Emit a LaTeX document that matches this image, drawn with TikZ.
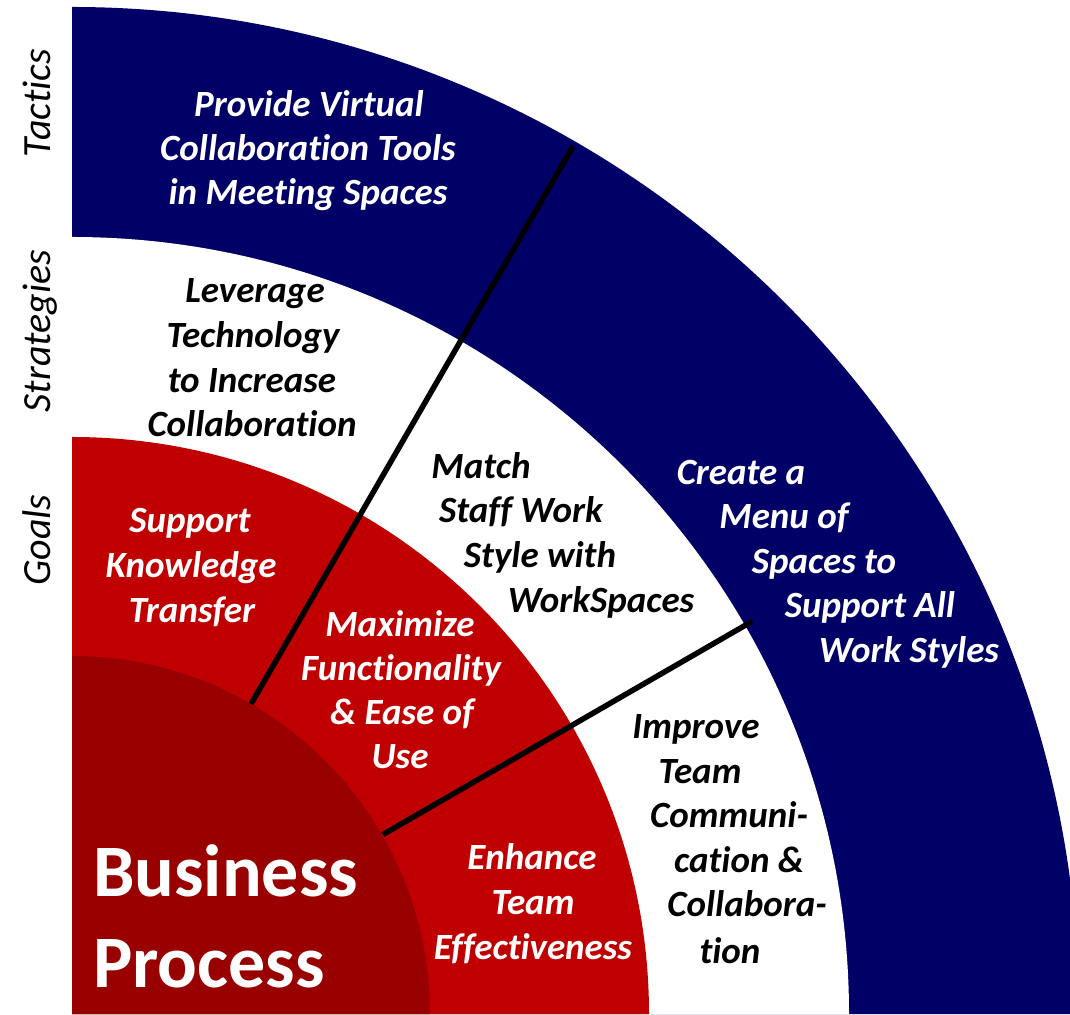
\documentclass[tikz,border=0pt]{standalone}
\usepackage{fontspec}
\setmainfont{Carlito}[RawFeature={-liga;-clig;-calt;-dlig}]
\usetikzlibrary{calc}
\definecolor{navy}{HTML}{000066}
\definecolor{bred}{HTML}{C00000}
\definecolor{dred}{HTML}{990000}
\begin{document}
\begin{tikzpicture}[x=1pt,y=1pt,
  lbl/.style={anchor=base,inner sep=0pt,font=\fontsize{37}{44}\selectfont\bfseries\itshape},
  onwhite/.style={lbl,text=black},
  ondark/.style={lbl,text=white},
  side/.style={anchor=base,inner sep=0pt,rotate=90,font=\fontsize{40}{48}\selectfont\itshape},
  big/.style={anchor=base west,inner sep=0pt,text=white,font=\fontsize{74}{88}\selectfont\bfseries},
  divider/.style={line width=5.5pt,black}]
\useasboundingbox (0,0) rectangle (1070,1014);
\clip (0,0) rectangle (1070,1014);
\coordinate (C) at (72,0);
% rings
\fill[navy] (C) -- ++(0,1007pt) arc[start angle=90,end angle=0,radius=1007pt] -- cycle;
\fill[white] (C) -- ++(0,777pt) arc[start angle=90,end angle=0,radius=777pt] -- cycle;
\fill[bred] (C) -- ++(0,577pt) arc[start angle=90,end angle=0,radius=577pt] -- cycle;
\fill[dred] (C) -- ++(0,358pt) arc[start angle=90,end angle=0,radius=358pt] -- cycle;
% dividers
\coordinate (a1) at ($(C)+(60:358)$);
\coordinate (a2) at ($(C)+(60:1002)$);
\coordinate (b1) at ($(C)+(30:359)$);
\coordinate (b2) at ($(C)+(30:785)$);
\draw[divider] (a1) -- (a2);
\draw[divider] (b1) -- (b2);
% side labels
\node[side] (tac) at (50,911) {Tactics};
\node[side] (str) at (50,683) {Strategies};
\node[side] (goa) at (50,474) {Goals};
% tactics
\node[ondark] (pv1) at (309,897) {Provide Virtual};
\node[ondark] (pv2) at (308,853) {Collaboration Tools};
\node[ondark] (pv3) at (308,809) {in Meeting Spaces};
\node[ondark] (cm1) at (741,529) {Create a};
\node[ondark] (cm2) at (784,485) {Menu of};
\node[ondark] (cm3) at (824,440) {Spaces to};
\node[ondark] (cm4) at (870,396) {Support All};
\node[ondark] (cm5) at (909,351) {Work Styles};
% strategies
\node[onwhite] (lt1) at (255,711) {Leverage};
\node[onwhite] (lt2) at (253,666) {Technology};
\node[onwhite] (lt3) at (252,621) {to Increase};
\node[onwhite] (lt4) at (252,577) {Collaboration};
\node[onwhite] (ms1) at (481,535) {Match};
\node[onwhite] (ms2) at (521,491) {Staff Work};
\node[onwhite] (ms3) at (540,446) {Style with};
\node[onwhite] (ms4) at (601,401) {WorkSpaces};
\node[onwhite] (it1) at (696,275) {Improve};
\node[onwhite] (it2) at (700,230) {Team};
\node[onwhite] (it3) at (729,186) {Communi-};
\node[onwhite] (it4) at (739,141) {cation \&};
\node[onwhite] (it5) at (747,97) {Collabora-};
\node[onwhite] (it6) at (730,51) {tion};
% goals
\node[ondark] (sk1) at (190,481) {Support};
\node[ondark] (sk2) at (191,436) {Knowledge};
\node[ondark] (sk3) at (192,391) {Transfer};
\node[ondark] (mf1) at (400,377) {Maximize};
\node[ondark] (mf2) at (401,333) {Functionality};
\node[ondark] (mf3) at (402,289) {\& Ease of};
\node[ondark] (mf4) at (400,245) {Use};
\node[ondark] (et1) at (532,144) {Enhance};
\node[ondark] (et2) at (533,99) {Team};
\node[ondark] (et3) at (533,55) {Effectiveness};
% centre
\node[big] (bp1) at (93,117) {Business};
\node[big] (bp2) at (93,27) {Process};
\end{tikzpicture}
\end{document}
